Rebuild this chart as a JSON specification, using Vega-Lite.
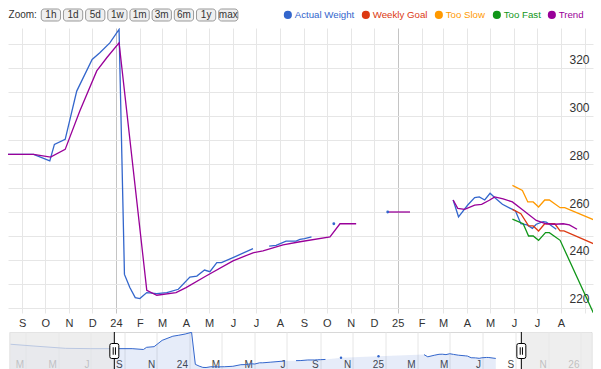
{
  "$schema": "https://vega.github.io/schema/vega-lite/v6.json",
  "padding": {"left": 8, "right": 8, "top": 8, "bottom": 0},
  "background": "white",
  "bounds": "flush",
  "spacing": 7,
  "config": {
    "view": {"stroke": null},
    "font": "Liberation Sans",
    "axis": {"labelFont": "Liberation Sans"},
    "legend": {"labelFont": "Liberation Sans"}
  },
  "datasets": {
    "weights": [
      {"series": "Actual Weight", "seg": 1, "date": "2023/02/01", "value": 298},
      {"series": "Actual Weight", "seg": 1, "date": "2023/03/15", "value": 292.5},
      {"series": "Actual Weight", "seg": 1, "date": "2023/05/15", "value": 285},
      {"series": "Actual Weight", "seg": 1, "date": "2023/07/01", "value": 284},
      {"series": "Actual Weight", "seg": 1, "date": "2023/08/14", "value": 284},
      {"series": "Actual Weight", "seg": 1, "date": "2023/09/16", "value": 284},
      {"series": "Actual Weight", "seg": 1, "date": "2023/10/07", "value": 281.3},
      {"series": "Actual Weight", "seg": 1, "date": "2023/10/13", "value": 288.2},
      {"series": "Actual Weight", "seg": 1, "date": "2023/10/27", "value": 290.3},
      {"series": "Actual Weight", "seg": 1, "date": "2023/11/11", "value": 310.4},
      {"series": "Actual Weight", "seg": 1, "date": "2023/12/01", "value": 323.6},
      {"series": "Actual Weight", "seg": 1, "date": "2023/12/11", "value": 326.4},
      {"series": "Actual Weight", "seg": 1, "date": "2023/12/24", "value": 330.5},
      {"series": "Actual Weight", "seg": 1, "date": "2024/01/05", "value": 336.1},
      {"series": "Actual Weight", "seg": 1, "date": "2024/01/12", "value": 234.0},
      {"series": "Actual Weight", "seg": 1, "date": "2024/01/19", "value": 228.5},
      {"series": "Actual Weight", "seg": 1, "date": "2024/01/26", "value": 224.3},
      {"series": "Actual Weight", "seg": 1, "date": "2024/02/01", "value": 223.9},
      {"series": "Actual Weight", "seg": 1, "date": "2024/02/10", "value": 226.4},
      {"series": "Actual Weight", "seg": 1, "date": "2024/02/23", "value": 226.0},
      {"series": "Actual Weight", "seg": 1, "date": "2024/03/07", "value": 226.4},
      {"series": "Actual Weight", "seg": 1, "date": "2024/03/22", "value": 227.8},
      {"series": "Actual Weight", "seg": 1, "date": "2024/04/06", "value": 232.9},
      {"series": "Actual Weight", "seg": 1, "date": "2024/04/15", "value": 233.3},
      {"series": "Actual Weight", "seg": 1, "date": "2024/04/25", "value": 235.8},
      {"series": "Actual Weight", "seg": 1, "date": "2024/05/02", "value": 235.1},
      {"series": "Actual Weight", "seg": 1, "date": "2024/05/11", "value": 238.9},
      {"series": "Actual Weight", "seg": 1, "date": "2024/05/17", "value": 238.9},
      {"series": "Actual Weight", "seg": 1, "date": "2024/06/01", "value": 241.0},
      {"series": "Actual Weight", "seg": 1, "date": "2024/06/27", "value": 244.7},
      {"series": "Actual Weight", "seg": 2, "date": "2024/07/18", "value": 245.8},
      {"series": "Actual Weight", "seg": 2, "date": "2024/07/27", "value": 246.1},
      {"series": "Actual Weight", "seg": 2, "date": "2024/08/09", "value": 247.9},
      {"series": "Actual Weight", "seg": 2, "date": "2024/08/22", "value": 247.9},
      {"series": "Actual Weight", "seg": 2, "date": "2024/08/27", "value": 248.6},
      {"series": "Actual Weight", "seg": 2, "date": "2024/09/02", "value": 248.9},
      {"series": "Actual Weight", "seg": 2, "date": "2024/09/11", "value": 249.6},
      {"series": "Actual Weight", "seg": 3, "date": "2024/10/10", "value": 255.1},
      {"series": "Actual Weight", "seg": 4, "date": "2024/12/19", "value": 260.0},
      {"series": "Actual Weight", "seg": 5, "date": "2025/03/14", "value": 265.0},
      {"series": "Actual Weight", "seg": 5, "date": "2025/03/21", "value": 258.0},
      {"series": "Actual Weight", "seg": 5, "date": "2025/04/02", "value": 262.9},
      {"series": "Actual Weight", "seg": 5, "date": "2025/04/11", "value": 266.0},
      {"series": "Actual Weight", "seg": 5, "date": "2025/04/17", "value": 266.3},
      {"series": "Actual Weight", "seg": 5, "date": "2025/04/24", "value": 265.0},
      {"series": "Actual Weight", "seg": 5, "date": "2025/05/01", "value": 267.8},
      {"series": "Actual Weight", "seg": 5, "date": "2025/05/08", "value": 265.7},
      {"series": "Actual Weight", "seg": 5, "date": "2025/05/17", "value": 263.2},
      {"series": "Actual Weight", "seg": 5, "date": "2025/05/30", "value": 261.1},
      {"series": "Actual Weight", "seg": 5, "date": "2025/06/03", "value": 260.4},
      {"series": "Actual Weight", "seg": 5, "date": "2025/06/10", "value": 255.1},
      {"series": "Actual Weight", "seg": 5, "date": "2025/06/18", "value": 254.6},
      {"series": "Actual Weight", "seg": 5, "date": "2025/06/25", "value": 253.2},
      {"series": "Actual Weight", "seg": 5, "date": "2025/06/30", "value": 254.9},
      {"series": "Actual Weight", "seg": 5, "date": "2025/07/09", "value": 256.0},
      {"series": "Actual Weight", "seg": 5, "date": "2025/07/13", "value": 255.8},
      {"series": "Actual Weight", "seg": 5, "date": "2025/07/26", "value": 252.8},
      {"series": "Weekly Goal", "seg": 1, "date": "2025/05/30", "value": 261.1},
      {"series": "Weekly Goal", "seg": 1, "date": "2025/06/10", "value": 259.3},
      {"series": "Weekly Goal", "seg": 1, "date": "2025/06/20", "value": 254.2},
      {"series": "Weekly Goal", "seg": 1, "date": "2025/06/26", "value": 254.2},
      {"series": "Weekly Goal", "seg": 1, "date": "2025/07/03", "value": 252.1},
      {"series": "Weekly Goal", "seg": 1, "date": "2025/07/11", "value": 255.1},
      {"series": "Weekly Goal", "seg": 1, "date": "2025/07/24", "value": 255.1},
      {"series": "Weekly Goal", "seg": 1, "date": "2025/07/31", "value": 252.1},
      {"series": "Weekly Goal", "seg": 1, "date": "2025/08/05", "value": 252.1},
      {"series": "Weekly Goal", "seg": 1, "date": "2025/09/20", "value": 245.7},
      {"series": "Too Slow", "seg": 1, "date": "2025/05/30", "value": 271.1},
      {"series": "Too Slow", "seg": 1, "date": "2025/06/12", "value": 269.0},
      {"series": "Too Slow", "seg": 1, "date": "2025/06/19", "value": 264.2},
      {"series": "Too Slow", "seg": 1, "date": "2025/06/26", "value": 264.2},
      {"series": "Too Slow", "seg": 1, "date": "2025/07/03", "value": 262.1},
      {"series": "Too Slow", "seg": 1, "date": "2025/07/11", "value": 265.0},
      {"series": "Too Slow", "seg": 1, "date": "2025/07/17", "value": 265.0},
      {"series": "Too Slow", "seg": 1, "date": "2025/07/31", "value": 261.8},
      {"series": "Too Slow", "seg": 1, "date": "2025/08/06", "value": 261.8},
      {"series": "Too Slow", "seg": 1, "date": "2025/09/20", "value": 255.8},
      {"series": "Too Fast", "seg": 1, "date": "2025/05/30", "value": 257.0},
      {"series": "Too Fast", "seg": 1, "date": "2025/06/13", "value": 255.1},
      {"series": "Too Fast", "seg": 1, "date": "2025/06/20", "value": 250.0},
      {"series": "Too Fast", "seg": 1, "date": "2025/06/26", "value": 250.0},
      {"series": "Too Fast", "seg": 1, "date": "2025/07/03", "value": 248.2},
      {"series": "Too Fast", "seg": 1, "date": "2025/07/12", "value": 251.4},
      {"series": "Too Fast", "seg": 1, "date": "2025/07/17", "value": 251.4},
      {"series": "Too Fast", "seg": 1, "date": "2025/07/31", "value": 248.2},
      {"series": "Too Fast", "seg": 1, "date": "2025/09/20", "value": 212.5},
      {"series": "Trend", "seg": 1, "date": "2023/08/01", "value": 284},
      {"series": "Trend", "seg": 1, "date": "2023/09/16", "value": 284},
      {"series": "Trend", "seg": 1, "date": "2023/10/08", "value": 282.9},
      {"series": "Trend", "seg": 1, "date": "2023/10/27", "value": 286.1},
      {"series": "Trend", "seg": 1, "date": "2023/11/15", "value": 302.1},
      {"series": "Trend", "seg": 1, "date": "2023/12/07", "value": 318.8},
      {"series": "Trend", "seg": 1, "date": "2023/12/20", "value": 324.3},
      {"series": "Trend", "seg": 1, "date": "2024/01/05", "value": 330.5},
      {"series": "Trend", "seg": 1, "date": "2024/02/10", "value": 227.4},
      {"series": "Trend", "seg": 1, "date": "2024/02/23", "value": 225.3},
      {"series": "Trend", "seg": 1, "date": "2024/03/19", "value": 226.4},
      {"series": "Trend", "seg": 1, "date": "2024/04/01", "value": 228.5},
      {"series": "Trend", "seg": 1, "date": "2024/04/27", "value": 233.3},
      {"series": "Trend", "seg": 1, "date": "2024/06/01", "value": 239.6},
      {"series": "Trend", "seg": 1, "date": "2024/06/27", "value": 243.0},
      {"series": "Trend", "seg": 1, "date": "2024/07/10", "value": 243.8},
      {"series": "Trend", "seg": 1, "date": "2024/08/05", "value": 246.3},
      {"series": "Trend", "seg": 1, "date": "2024/08/27", "value": 247.6},
      {"series": "Trend", "seg": 1, "date": "2024/10/05", "value": 249.6},
      {"series": "Trend", "seg": 1, "date": "2024/10/18", "value": 255.1},
      {"series": "Trend", "seg": 1, "date": "2024/11/08", "value": 255.1},
      {"series": "Trend", "seg": 2, "date": "2024/12/19", "value": 260.0},
      {"series": "Trend", "seg": 2, "date": "2025/01/17", "value": 260.0},
      {"series": "Trend", "seg": 3, "date": "2025/03/14", "value": 265.0},
      {"series": "Trend", "seg": 3, "date": "2025/03/20", "value": 261.5},
      {"series": "Trend", "seg": 3, "date": "2025/03/29", "value": 261.1},
      {"series": "Trend", "seg": 3, "date": "2025/04/11", "value": 262.9},
      {"series": "Trend", "seg": 3, "date": "2025/04/20", "value": 263.2},
      {"series": "Trend", "seg": 3, "date": "2025/04/30", "value": 264.9},
      {"series": "Trend", "seg": 3, "date": "2025/05/07", "value": 266.3},
      {"series": "Trend", "seg": 3, "date": "2025/05/18", "value": 265.5},
      {"series": "Trend", "seg": 3, "date": "2025/05/30", "value": 264.2},
      {"series": "Trend", "seg": 3, "date": "2025/06/13", "value": 260.7},
      {"series": "Trend", "seg": 3, "date": "2025/06/30", "value": 256.5},
      {"series": "Trend", "seg": 3, "date": "2025/07/13", "value": 255.1},
      {"series": "Trend", "seg": 3, "date": "2025/07/24", "value": 254.9},
      {"series": "Trend", "seg": 3, "date": "2025/08/04", "value": 255.1},
      {"series": "Trend", "seg": 3, "date": "2025/08/12", "value": 254.6},
      {"series": "Trend", "seg": 3, "date": "2025/08/22", "value": 252.8}
    ],
    "buttons": [
      {"label": "Zoom:", "kind": "title"},
      {"label": "1h", "kind": "button"},
      {"label": "1d", "kind": "button"},
      {"label": "5d", "kind": "button"},
      {"label": "1w", "kind": "button"},
      {"label": "1m", "kind": "button"},
      {"label": "3m", "kind": "button"},
      {"label": "6m", "kind": "button"},
      {"label": "1y", "kind": "button"},
      {"label": "max", "kind": "button"}
    ],
    "mask": [
      {"from": "2023/01/01", "to": "2023/08/13 17:00"},
      {"from": "2025/09/11 17:00", "to": "2026/03/01"}
    ],
    "handles": [
      {"date": "2023/08/13 17:00"},
      {"date": "2025/09/11 17:00"}
    ]
  },
  "vconcat": [
    {
      "width": 241,
      "height": 12,
      "data": {"name": "buttons"},
      "encoding": {
        "x": {
          "field": "label", "type": "nominal", "axis": null,
          "scale": {"domain": ["Zoom:", "1h", "1d", "5d", "1w", "1m", "3m", "6m", "1y", "max"], "paddingInner": 0.13, "paddingOuter": 0.5}
        }
      },
      "layer": [
        {
          "transform": [{"filter": "datum.kind == 'button'"}],
          "mark": {"type": "rect", "cornerRadius": 3, "fill": "#efefef", "stroke": "#999999", "strokeWidth": 1}
        },
        {
          "transform": [{"filter": "datum.kind == 'button'"}],
          "mark": {"type": "text", "font": "Liberation Sans", "fontSize": 10, "color": "#333333", "baseline": "middle"},
          "encoding": {"text": {"field": "label"}}
        },
        {
          "transform": [{"filter": "datum.kind == 'title'"}],
          "mark": {"type": "text", "font": "Liberation Sans", "fontSize": 10, "color": "#333333", "baseline": "middle", "dx": -6},
          "encoding": {"text": {"field": "label"}}
        }
      ]
    },
    {
      "bounds": "flush",
      "spacing": 19,
      "center": true,
      "vconcat": [
        {
          "width": 585,
          "height": 285,
          "data": {"name": "weights"},
          "encoding": {
            "x": {
              "field": "date", "type": "temporal",
              "scale": {"domain": [{"year": 2023, "month": 8, "date": 13, "hours": 17}, {"year": 2025, "month": 9, "date": 11, "hours": 17}]},
              "axis": {
                "title": null, "domain": false, "ticks": false, "tickSize": 0, "grid": true,
                "gridColor": {"condition": {"test": "month(datum.value) == 0", "value": "#c4c4c4"}, "value": "#e6e6e6"},
                "tickCount": {"interval": "month", "step": 1},
                "labelExpr": "datum.value > datetime(2025, 7, 20) ? '' : (month(datum.value) == 0 ? timeFormat(datum.value, '%y') : substring(timeFormat(datum.value, '%b'), 0, 1))",
                "labelFontSize": 11, "labelColor": "#333333", "labelPadding": 4, "labelFlush": false, "labelOverlap": false
              }
            },
            "y": {
              "field": "value", "type": "quantitative",
              "scale": {"domain": [217.9, 336.7], "zero": false, "nice": false},
              "axis": {
                "orient": "right", "title": null, "domain": false, "ticks": false, "tickSize": 0,
                "values": [220, 230, 240, 250, 260, 270, 280, 290, 300, 310, 320, 330],
                "labelExpr": "datum.value % 20 == 0 ? datum.label : ''",
                "gridColor": "#e6e6e6", "labelAlign": "right", "labelPadding": -4,
                "labelBaseline": "alphabetic", "labelOffset": -5, "labelFontSize": 12, "labelColor": "#333333"
              }
            },
            "color": {
              "field": "series", "type": "nominal",
              "scale": {
                "domain": ["Actual Weight", "Weekly Goal", "Too Slow", "Too Fast", "Trend"],
                "range": ["#3366cc", "#dc3912", "#ff9900", "#109618", "#990099"]
              },
              "legend": {
                "orient": "none", "legendX": 275, "legendY": 1, "direction": "horizontal", "title": null,
                "symbolType": "circle", "symbolSize": 17, "symbolStrokeWidth": 4,
                "labelFontSize": 9.7, "labelColor": {"expr": "scale('color', datum.value)"},
                "columnPadding": 0, "labelOffset": 2, "padding": 0
              }
            }
          },
          "layer": [
            {
              "mark": {"type": "line", "strokeWidth": 1.3, "clip": true},
              "encoding": {"detail": {"field": "seg"}}
            },
            {
              "transform": [
                {"joinaggregate": [{"op": "count", "as": "n"}], "groupby": ["series", "seg"]},
                {"filter": "datum.n == 1"}
              ],
              "mark": {"type": "point", "filled": true, "size": 8, "opacity": 1, "clip": true}
            }
          ]
        },
        {
          "width": 582,
          "height": 38,
          "view": {"stroke": "#d8d8d8"},
          "layer": [
            {
              "data": {"name": "weights"},
              "transform": [{"filter": "datum.series == 'Actual Weight'"}],
              "mark": {"type": "area", "color": "#3366cc", "opacity": 0.12, "clip": true},
              "encoding": {
                "x": {
                  "field": "date", "type": "temporal",
                  "scale": {"domain": [{"year": 2023, "month": 1, "date": 30}, {"year": 2026, "month": 1, "date": 20, "hours": 17}]},
                  "axis": {
                    "title": null, "domain": false, "ticks": false, "tickSize": 0, "grid": true, "gridColor": "#e6e6e6",
                    "tickCount": {"interval": "month", "step": 2},
                    "labelExpr": "month(datum.value) == 0 ? timeFormat(datum.value, '%y') : substring(timeFormat(datum.value, '%b'), 0, 1)",
                    "labelAlign": "right", "labelOffset": -2, "labelBaseline": "alphabetic", "labelPadding": -3,
                    "labelFontSize": 10, "labelColor": "#444444", "labelFlush": false, "labelOverlap": false
                  }
                },
                "y": {"field": "value", "type": "quantitative", "scale": {"domain": [216, 337], "zero": false, "nice": false}, "axis": null},
                "detail": {"field": "seg"}
              }
            },
            {
              "data": {"name": "weights"},
              "transform": [{"filter": "datum.series == 'Actual Weight'"}],
              "mark": {"type": "line", "color": "#3366cc", "strokeWidth": 1, "clip": true},
              "encoding": {
                "x": {"field": "date", "type": "temporal", "scale": {"domain": [{"year": 2023, "month": 1, "date": 30}, {"year": 2026, "month": 1, "date": 20, "hours": 17}]}},
                "y": {"field": "value", "type": "quantitative", "scale": {"domain": [216, 337], "zero": false, "nice": false}},
                "detail": {"field": "seg"}
              }
            },
            {
              "data": {"name": "weights"},
              "transform": [
                {"filter": "datum.series == 'Actual Weight'"},
                {"joinaggregate": [{"op": "count", "as": "n"}], "groupby": ["seg"]},
                {"filter": "datum.n == 1"}
              ],
              "mark": {"type": "point", "filled": true, "color": "#3366cc", "size": 6, "opacity": 1, "clip": true},
              "encoding": {
                "x": {"field": "date", "type": "temporal", "scale": {"domain": [{"year": 2023, "month": 1, "date": 30}, {"year": 2026, "month": 1, "date": 20, "hours": 17}]}},
                "y": {"field": "value", "type": "quantitative", "scale": {"domain": [216, 337], "zero": false, "nice": false}}
              }
            },
            {
              "data": {"name": "mask"},
              "mark": {"type": "rect", "color": "#e8e8e8", "opacity": 0.75, "clip": true},
              "encoding": {
                "x": {"field": "from", "type": "temporal", "scale": {"domain": [{"year": 2023, "month": 1, "date": 30}, {"year": 2026, "month": 1, "date": 20, "hours": 17}]}},
                "x2": {"field": "to"}
              }
            },
            {
              "data": {"name": "handles"},
              "mark": {"type": "rule", "color": "#000000", "strokeWidth": 1},
              "encoding": {
                "x": {"field": "date", "type": "temporal", "scale": {"domain": [{"year": 2023, "month": 1, "date": 30}, {"year": 2026, "month": 1, "date": 20, "hours": 17}]}}
              }
            },
            {
              "data": {"name": "handles"},
              "mark": {
                "type": "point", "filled": true, "fill": "#ffffff", "stroke": "#000000", "strokeWidth": 1, "opacity": 1, "size": 225,
                "shape": "M-0.6,-0.75Q-0.6,-1,-0.35,-1L0.35,-1Q0.6,-1,0.6,-0.75L0.6,0.75Q0.6,1,0.35,1L-0.35,1Q-0.6,1,-0.6,0.75ZM-0.15,-0.5L-0.15,0.5M0.15,-0.5L0.15,0.5"
              },
              "encoding": {
                "x": {"field": "date", "type": "temporal", "scale": {"domain": [{"year": 2023, "month": 1, "date": 30}, {"year": 2026, "month": 1, "date": 20, "hours": 17}]}}
              }
            }
          ]
        }
      ]
    }
  ]
}
